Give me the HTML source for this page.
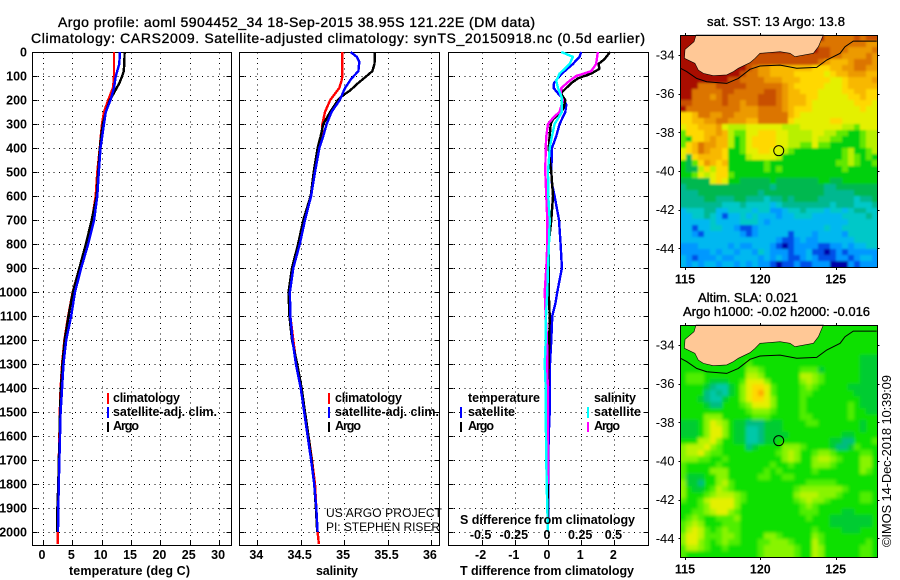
<!DOCTYPE html>
<html>
<head>
<meta charset="utf-8">
<title>Argo profile</title>
<style>
html,body{margin:0;padding:0;background:#fff;width:900px;height:580px;overflow:hidden}
svg{display:block}
text{font-family:"Liberation Sans",sans-serif;fill:#000}
.b{font-size:12.5px;font-weight:bold}
.t{font-size:14px;stroke:#000;stroke-width:.35px}
.n{font-size:13px;font-weight:normal}
.c{font-size:12px;font-weight:normal}
</style>
</head>
<body>
<svg id="chart" xmlns="http://www.w3.org/2000/svg" width="900" height="580" viewBox="0 0 900 580">
  <defs>
    <filter id="blur-sst" filterUnits="userSpaceOnUse" x="650" y="10" width="250" height="280"><feGaussianBlur stdDeviation="1"/></filter>
    <filter id="blur-sla" filterUnits="userSpaceOnUse" x="650" y="300" width="250" height="280"><feGaussianBlur stdDeviation="1.6"/></filter>
    <clipPath id="clip-sst"><rect x="680.5" y="35" width="197" height="232"/></clipPath>
    <clipPath id="clip-sla"><rect x="680.5" y="325" width="197" height="232"/></clipPath>
  </defs>
  <text class="t" x="58" y="27" textLength="477">Argo profile: aoml 5904452_34 18-Sep-2015 38.95S 121.22E (DM data)</text>
  <text class="t" x="31" y="43" textLength="614">Climatology: CARS2009. Satellite-adjusted climatology: synTS_20150918.nc (0.5d earlier)</text>

  <g id="temp-panel"></g>
  <g id="sal-panel"></g>
  <g id="diff-panel"></g>
  <g id="sst-map"></g>
  <g id="sla-map"></g>

  <text class="b" x="69" y="575" textLength="121">temperature (deg C)</text>
  <text class="b" x="316" y="575" textLength="42">salinity</text>
  <text class="b" x="460" y="575" textLength="174">T difference from climatology</text>
  <text class="b" x="460" y="524" textLength="175">S difference from climatology</text>

  <g>
    <rect x="107" y="393" width="2" height="11" fill="#ff0000"/>
    <rect x="107" y="407" width="2" height="11" fill="#0000ff"/>
    <rect x="107" y="422" width="2" height="10" fill="#000"/>
    <text class="b" x="113" y="402" textLength="67">climatology</text>
    <text class="b" x="113" y="416" textLength="104">satellite-adj. clim.</text>
    <text class="b" x="113" y="430" textLength="26">Argo</text>
  </g>
  <g>
    <rect x="328" y="393" width="2" height="11" fill="#ff0000"/>
    <rect x="328" y="407" width="2" height="11" fill="#0000ff"/>
    <rect x="328" y="422" width="2" height="10" fill="#000"/>
    <text class="b" x="335" y="402" textLength="67">climatology</text>
    <text class="b" x="335" y="416" textLength="104">satellite-adj. clim.</text>
    <text class="b" x="335" y="430" textLength="26">Argo</text>
  </g>
  <g>
    <text class="b" x="468" y="402" textLength="72">temperature</text>
    <text class="b" x="468" y="416" textLength="47">satellite</text>
    <text class="b" x="468" y="430" textLength="26">Argo</text>
    <rect x="460" y="407" width="2" height="11" fill="#0000ff"/>
    <rect x="460" y="422" width="2" height="10" fill="#000"/>
    <text class="b" x="594" y="402" textLength="42">salinity</text>
    <text class="b" x="594" y="416" textLength="47">satellite</text>
    <text class="b" x="594" y="430" textLength="26">Argo</text>
    <rect x="587" y="407" width="2" height="11" fill="#00ffff"/>
    <rect x="587" y="422" width="2" height="10" fill="#ff00ff"/>
  </g>

  <text class="c" x="326" y="517" textLength="116">US ARGO PROJECT</text>
  <text class="c" x="326" y="531" textLength="114">PI: STEPHEN RISER</text>

  <text class="t" style="font-size:13px" x="707" y="26" textLength="138">sat. SST: 13 Argo: 13.8</text>
  <text class="t" style="font-size:13px" x="698" y="302" textLength="100">Altim. SLA: 0.021</text>
  <text class="t" style="font-size:13px" x="683" y="316" textLength="187">Argo h1000: -0.02 h2000: -0.016</text>
  <text class="n" transform="translate(891,547) rotate(-90)" x="0" y="0" textLength="172">©IMOS 14-Dec-2018 10:39:09</text>
</svg>

<script>
// ---- profile chart data ----
const depthTicks = [0,100,200,300,400,500,600,700,800,900,1000,1100,1200,1300,1400,1500,1600,1700,1800,1900,2000];
const tempTicks = [0,5,10,15,20,25,30];
const salTicks = [34,34.5,35,35.5,36];
const salTickLabels = ['34','34.5','35','35.5','36'];
const diffTicks = [-2,-1,0,1,2];
const sDiffTicks = [-0.5,-0.25,0,0.25,0.5];
const sDiffTickLabels = ['-0.5','-0.25','0','0.25','0.5'];

const climDepth = [0,100,120,150,200,250,300,350,400,500,600,700,800,900,1000,1100,1200,1300,1400,1500,1600,1700,1800,1900,2000,2050];
const climTemp = [12.1,12.1,12.05,11.9,11.1,10.4,10.05,9.85,9.67,9.25,8.97,8.35,7.3,6.2,5.06,4.3,3.65,3.25,3.0,2.87,2.8,2.7,2.6,2.5,2.5,2.5];
const climSal = [34.98,34.98,34.97,34.945,34.84,34.78,34.75,34.745,34.70,34.665,34.62,34.53,34.49,34.415,34.37,34.38,34.415,34.45,34.51,34.55,34.59,34.63,34.665,34.68,34.695,34.71];

const argoTempDepth = [0,50,80,100,130,170,200,250,300,350,400,500,600,700,800,900,1000,1100,1200,1300,1400,1500,1600,1700,1800,1900,2000];
const argoTemp = [13.9,13.85,13.75,13.5,13.0,12.1,11.4,10.7,10.2,9.9,9.7,9.4,9.15,8.3,7.3,6.2,5.1,4.35,3.7,3.3,3.05,2.9,2.85,2.7,2.6,2.45,2.45];
const satTempDepth = [0,50,100,150,200,250,300,400,500,600,700,800,900,1000,1100,1200,1300,1400,1500,1600,1700,1800,1900,2000];
const satTemp = [13.1,13.0,12.4,12.1,11.5,10.7,10.4,9.8,9.5,9.25,8.7,7.7,6.5,5.45,4.8,3.95,3.5,3.25,3.0,2.9,2.8,2.7,2.6,2.55];

const argoSalDepth = [0,50,80,100,130,160,180,200,250,300,350,400,500,600,700,800,900,1000,1100,1200,1300,1400,1500,1600,1700,1800,1900,2000];
const argoSal = [35.355,35.35,35.325,35.26,35.16,35.07,34.99,34.93,34.84,34.76,34.73,34.695,34.65,34.615,34.53,34.47,34.40,34.36,34.37,34.40,34.46,34.51,34.55,34.59,34.625,34.655,34.675,34.69];
const satSalDepth = [0,20,40,80,110,150,200,250,300,350,400,500,600,700,800,900,1000,1100,1200,1300,1400,1500,1600,1700,1800,1900,2000];
const satSal = [35.075,35.145,35.175,35.165,35.085,35.01,34.95,34.855,34.80,34.76,34.715,34.665,34.62,34.55,34.49,34.415,34.375,34.38,34.405,34.445,34.50,34.54,34.58,34.62,34.655,34.68,34.695];

const tSatDepth = [0,20,50,80,100,130,150,180,200,220,250,300,350,400,500,550,600,700,800,900,1000,1050,1100,1200,1300,1400,1500,1600,1700,2000];
const tSatDiff = [1.0,0.95,0.75,0.5,0.35,0.18,0.17,0.35,0.48,0.55,0.52,0.35,0.25,0.12,0.1,0.12,0.2,0.33,0.38,0.42,0.28,0.22,0.13,0.1,0.06,0.05,0.05,0.02,0.01,0];
const tArgoDepth = [0,30,50,70,90,110,130,150,170,180,200,230,250,280,300,350,400,450,500,600,700,800,900,1000,1100,1200,1300,1400,2000];
const tArgoDiff = [1.87,1.7,1.52,1.55,1.3,0.9,0.7,0.55,0.4,0.42,0.52,0.48,0.4,0.15,0.08,0.05,0.02,0.05,0.1,0.15,0.1,0.02,0.02,0.02,0.05,0.04,0.02,0,0];
const sArgoDepth = [0,50,80,100,120,150,180,200,250,270,300,350,400,500,600,700,800,900,1000,1100,1200,1300,1400,1800];
const sArgoDiff = [1.5,1.45,1.3,0.85,0.65,0.4,0.38,0.45,0.35,0.18,0,-0.05,-0.07,-0.08,-0.05,-0.02,-0.02,-0.05,-0.1,-0.07,-0.03,-0.02,-0.01,0];
const sSatDepth = [0,20,50,90,120,150,190,220,250,300,350,400,500,600,700,800,900,1000,1100,1200,1300,1400,1500,1600,1700,1800,1900,2000];
const sSatDiff = [0.4,0.75,0.65,0.35,0.25,0.3,0.42,0.42,0.42,0.2,0.12,0.05,0,0.01,0.05,0.03,0,-0.02,-0.06,-0.07,-0.1,-0.07,-0.07,-0.06,-0.05,-0.04,-0.02,0];

// ---- map data ----
const lonTicks = [115,120,125];
const latTicks = [-34,-36,-38,-40,-42,-44];
const coastLon = [115.73,115.60,115,114.96,115.66,115.88,116.22,116.88,117.77,118.21,118.54,119.31,119.65,119.98,121.31,121.97,122.30,123.52,123.85,124.18];
const coastLat = [-32.97,-33.31,-33.71,-34.17,-34.43,-34.78,-34.95,-35.07,-35.03,-34.86,-34.69,-34.40,-34.17,-33.91,-33.83,-33.91,-34.09,-33.91,-33.57,-32.97];
const shelfLon = [114.71,115.11,115.77,116.44,117.77,118.54,119.31,119.98,121.31,122.41,123.74,124.40,125.29,125.62,126.17,127.72];
const shelfLat = [-34.69,-34.86,-35.21,-35.38,-35.47,-35.21,-34.74,-34.57,-34.52,-34.69,-34.64,-34.26,-33.91,-33.57,-33.28,-33.28];
const profileLon = 121.22;
const profileLat = -38.95;

const sstLevels = {n:'#0000a8',b:'#0050e8',s:'#0098ff',c:'#00b8f0',t:'#00c8c8',u:'#00b890',g:'#00b850',h:'#00d010',i:'#60e800',j:'#b8f000',y:'#e4f000',z:'#ffd800',o:'#f8b800',p:'#ec9a00',q:'#dc7400',r:'#c85000',d:'#a80800'};
const sstRows = [
"ddddddddddd ddddddddddd ddqqqqqrqrr",
"ddddddddddd ddddddddddd dqqqqqqqqpp",
"ddddddddddd ddddddddddd drrqqqppppq",
"ddddddddddd drrrrrrrrrr rrrqqppppqp",
"ddddddddddd rrrrrrrrrrr rqpooopqqqp",
"ddddddddddd rqppooooooo zzzooppqqpp",
"ddddddddddr qqppoooozzz zzyzoopppoo",
"ddddddddrrq qqqpppooozz zzzyyzoooop",
"dddqqqrrrrr qqqqqqpozzz zzyyyzooooo",
"ddqqqqqrrqq qqqrrqpoozz zyyyyzzoozz",
"ddqqqpqrqqq qqrrrqpoooz zyyyyyzzozz",
"rrqqqqqrqqp qqrrrqpoooz yyyyyyyzzzy",
"dqqqqqqqqqp ppqqqqpozzz yyyyyyyyzyy",
"zzoqqppqqpp ppqqqqqozyy yyyyyyyyyyy",
"zzooppqqppp ooqqqqqzyyy yyyzzyyyyyy",
"yzzooopyjjj yyyyyyjjjyy yyyyyjjiyyy",
"izzzoopojii yyzzzyyjjjj yyjjiihhijj",
"ihzzopoojhi yzzzzyyjjjj yjjiihhhijj",
"izoqppoojhi yzzzzyyjjii yiihhhhhijj",
"yzoqpoozhhi yyzzyyjihhh hhhhhijhhij",
"ygzoooozhhh jyyyyjhhhhh hhhhhijihih",
"hgizpozohhh hhhihhhhhhh hhhhiijihhi",
"hggjzjzzhhh hhhihihhhhh hhhhhihhhhh",
"hhiyjyzzihh hhhhhhhhhhh hhhhhhhhhhh",
"gggggyzyhhg gggghgggggg ghhgghhhhhh",
"ugggggggggg ggggugggggg gguuggggggg",
"uuugggggggg ggugggggggg gguuuuugggg",
"uuuugguuugg uuutuuguggg guuuuuutuug",
"uuuuuuutttu ttttctuuuuu uuutuuutttu",
"ctttuuccttt tcttsscttut ttcttctuutt",
"ccttutcbcct ctcccsccttt cccccttttut",
"ccccctcccct ttcsccccccc ccccccttttt",
"ccbccttccsb bsccccccccc cctcctttttt",
"ccsbccccccs bscccccbccc sccccsttttt",
"ccccccccccc cccccsbbscs scccccctttt",
"ssscccccscs scccsbnbsss sbbsscscctt",
"ssssscsccsc cstcsssbssc bbnbsbsssss",
"csbssscsscc ccscscsbbsc sbbbssbsccs",
"cscsccsccsc scssbnbbsbb sssnnnsbsss"
];
const slaLevels = {t:'#00c8a8',u:'#00bc80',g:'#00cc30',h:'#10e000',i:'#50ee00',j:'#88f400',k:'#b8f400',y:'#e4f000',z:'#ffd800',o:'#ffa800'};
const slaRows = [
"hhhhhhhhhhh hhhhhhhhhhh hhhhhhhhhhh",
"hhhhhhhhhhh hhhhhhhhhhh hhhhhhhhhhh",
"hhhhhhhhhhh hhhhhhhhhhh hhhhhhhhhhh",
"hhhhhhhhhhh hhhhhhhhhhh hhhhhhhhhhh",
"hhhhhhhhhhh hhhhhhhhhhh hhhhhhhhhhh",
"hhhhhhhhhhh hhhhhhhhhhh hhhhhhhhggg",
"hhhhhhhhhhh ihhhhhhhhhh hhhhhhhhggg",
"hhhhhhhhhhh jjihhhhhhii ighhhhhhggg",
"hiiihhhhhhh kkjhhhhhhkk jihhhhhhggg",
"hiiihggghhi yyyjhhhhhjk jihhhhhhggg",
"hhhhguttghj yzzyihhhhij ihhhhhggggg",
"hhhhututghj yzoyihhhhii hhhhhhhgggg",
"hhhguttghhj yzzyjhhhhih hhhhhhhhggg",
"hhhhguuhhhi jyyyjhhhhih hhhhhhihggg",
"hhhhhhhhhhh ijjjihhhhih hhhhhhihhgg",
"hhhhjjjhhhh hiiihhhhhii hhhhhhihhhh",
"ggghjykjhgg uuuggghhhhi ihhhhhhhghh",
"ggghjyyjhgg ttuggghhhhh hhhhhhhhghh",
"ggghjyyjhgg ttugggghhhh hhhhhgghhhh",
"hhhkkyjhhgg ttugghhhhhh hhhgguuhhhi",
"jkkkyjihhhh ughhhhjjjih hhhguugihhh",
"jkkyjiihhhh hhhhhijkjhh ijjihhhhiih",
"jjjiihhihhh hhhhhhjkjhh jkkjihhhjjh",
"ihhhhhihhhh hhhhihhihhh jjjihhhhjjh",
"ihhhhjjjhhh hhhihihhhhh ihhhhhhhjih",
"iggghhjjhhh hhiihhiihhh hhhhhhhhhhh",
"jgguhhjkihh hhhhhhhhhhi iiiihhhhhhh",
"jhgghikjihh hhhhhhhhijj jjjjjihhhhh",
"jhhhijkkkji hhhhhhhhjkk kjjjihhhiih",
"ihhikyyyyji hhhhhhhhijk jjihhhhhiih",
"hhhijyyyyjh hhhhhhhhhij ihhhhhhhhhh",
"hhiijkyyjih hhhhhhhhhii ihhhhgghhhh",
"hijihhiiijh hhhhhhhhhhi hhhgggggggh",
"ijkjhhhiiih hhhhhhhhhhh hhhgggggggh",
"ikykihijiih hhhhhhhhhhh ihhhhggghhh",
"jyykiiijjih hhhjjihhhhh jihhhhhhhhh",
"jyyjihijiih hhiijjjihhh kihhhhhhhih",
"ikkjihhihhh hhijjjjjihh kjhhhhhhiih",
"ihhhhhhhhhh hhijjjjjihh kjhhhhhhiih"
];

// ---- helpers ----
const NS = 'http://www.w3.org/2000/svg';
function make(parent, tag, attrs, txt){
  const el = document.createElementNS(NS, tag);
  for (const k in attrs) el.setAttribute(k, attrs[k]);
  if (txt !== undefined) el.textContent = txt;
  parent.appendChild(el);
  return el;
}
const TOP = 52.5, BOTTOM = 545.5;
const yDepth = d => 52 + 0.24 * d;
const xTemp = t => 43 + 5.87 * t;
const xSal = s => 257.3 + 86.8 * (s - 34);
const xDiff = v => 548 + 33.2 * v;
const crisp = v => Math.round(v) + 0.5;

function drawFrame(g, left, right, vals, xf, labels){
  depthTicks.forEach(d => {
    if (d === 0) return;
    const y = crisp(yDepth(d));
    const grid = make(g, 'line', {x1:left, x2:right, y1:y, y2:y, stroke:'#000', 'stroke-width':1, 'stroke-dasharray':'1 4.3', 'shape-rendering':'crispEdges'});
    
    
    const tl = make(g, 'line', {x1:left, x2:left+5, y1:y, y2:y, stroke:'#000', 'shape-rendering':'crispEdges'});
    
    
    const tr = make(g, 'line', {x1:right-5, x2:right, y1:y, y2:y, stroke:'#000', 'shape-rendering':'crispEdges'});
    
    
  });
  vals.forEach((v, i) => {
    const x = crisp(xf(v));
    const grid = make(g, 'line', {x1:x, x2:x, y1:TOP, y2:BOTTOM, stroke:'#000', 'stroke-width':1, 'stroke-dasharray':'1 4.3', 'shape-rendering':'crispEdges'});
    
    
    const tb = make(g, 'line', {x1:x, x2:x, y1:BOTTOM-5, y2:BOTTOM, stroke:'#000', 'shape-rendering':'crispEdges'});
    
    
    const lab = make(g, 'text', {x:xf(v)-1, y:559, class:'b', 'text-anchor':'middle'}, labels ? labels[i] : String(v));
    
    
  });
  const fr = make(g, 'rect', {x:left, y:TOP, width:right-left, height:BOTTOM-TOP, fill:'none', stroke:'#000', 'stroke-width':1, 'shape-rendering':'crispEdges'});
  
  
}
function drawLine(g, depths, vals, xf, color, name){
  const pts = depths.map((d, i) => xf(vals[i]).toFixed(1) + ',' + yDepth(d).toFixed(1)).join(' ');
  const pl = make(g, 'polyline', {points:pts, fill:'none', stroke:color, 'stroke-width':2.4, 'stroke-linejoin':'round', 'shape-rendering':'crispEdges'});
  
  
}

// ---- profile panels ----
const tp = document.getElementById('temp-panel');
const sp = document.getElementById('sal-panel');
const dp = document.getElementById('diff-panel');
drawFrame(tp, 32.5, 231.5, tempTicks, xTemp);
drawFrame(sp, 239.5, 439.5, salTicks, xSal, salTickLabels);
drawFrame(dp, 448.5, 648.5, diffTicks, xDiff);

depthTicks.forEach(d => {
  const lab = make(tp, 'text', {x:27, y:yDepth(d)+4.5, class:'b', 'text-anchor':'end'}, String(d));
  
  
});

drawLine(tp, climDepth, climTemp, xTemp, '#ff0000', 'climatology-temperature-line');
drawLine(tp, argoTempDepth, argoTemp, xTemp, '#000000', 'argo-temperature-line');
drawLine(tp, satTempDepth, satTemp, xTemp, '#0000ff', 'satellite-temperature-line');

drawLine(sp, climDepth, climSal, xSal, '#ff0000', 'climatology-salinity-line');
drawLine(sp, argoSalDepth, argoSal, xSal, '#000000', 'argo-salinity-line');
drawLine(sp, satSalDepth, satSal, xSal, '#0000ff', 'satellite-salinity-line');

drawLine(dp, tSatDepth, tSatDiff, xDiff, '#0000ff', 't-satellite-difference-line');
drawLine(dp, tArgoDepth, tArgoDiff, xDiff, '#000000', 't-argo-difference-line');
drawLine(dp, sArgoDepth, sArgoDiff, xDiff, '#ff00ff', 's-argo-difference-line');
drawLine(dp, sSatDepth, sSatDiff, xDiff, '#00ffff', 's-satellite-difference-line');

sDiffTicks.forEach((v, i) => {
  const lab = make(dp, 'text', {x:xDiff(v*4)-1, y:539, class:'b', 'text-anchor':'middle'}, sDiffTickLabels[i]);
  
  
});

// ---- maps ----
const MAP_L = 680.5, MAP_R = 877.5, MAP_W = 197, MAP_H = 232;
const xLon = lon => 685 + 15.07 * (lon - 115);
function drawMap(g, top, rows, levels, cellName, clipId, filterId){
  const yLat = lat => top + 20 + 19.33 * (-34 - lat);
  const grid = rows.map(r => r.replace(/ /g, ''));
  const nr = grid.length, nc = grid[0].length;
  const cw = MAP_W / nc, ch = MAP_H / nr;
  const clipGroup = make(g, 'g', {'clip-path':'url(#' + clipId + ')'});
  
  
  const cells = make(clipGroup, 'g', {filter:'url(#' + filterId + ')'});
  
  
  grid.forEach((row, r) => {
    for (let c = 0; c < nc; c++) {
      // outermost cells run past the clip so the smoothing does not fade at the frame
      const x0 = Math.round(MAP_L + c * cw) - (c === 0 ? 10 : 0);
      const x1 = Math.round(MAP_L + (c + 1) * cw) + (c === nc - 1 ? 10 : 0);
      const y0 = Math.round(top + r * ch) - (r === 0 ? 10 : 0);
      const y1 = Math.round(top + (r + 1) * ch) + (r === nr - 1 ? 10 : 0);
      const cell = make(cells, 'rect', {x:x0, y:y0, width:x1-x0, height:y1-y0, fill:levels[row[c]], 'shape-rendering':'crispEdges'});
      
      
    }
  });
  const land = make(g, 'polygon', {points:coastLon.map((v, i) => xLon(v).toFixed(1) + ',' + yLat(coastLat[i]).toFixed(1)).join(' '), fill:'#ffc896', stroke:'#000', 'stroke-width':0.6});
  
  
  const shelf = make(g, 'polyline', {points:shelfLon.map((v, i) => xLon(v).toFixed(1) + ',' + yLat(shelfLat[i]).toFixed(1)).join(' '), fill:'none', stroke:'#000', 'stroke-width':1});
  
  
  const marker = make(g, 'circle', {cx:xLon(profileLon), cy:yLat(profileLat), r:5, fill:'none', stroke:'#000', 'stroke-width':1});
  
  
  const fr = make(g, 'rect', {x:MAP_L, y:top+0.5, width:MAP_W, height:MAP_H, fill:'none', stroke:'#000', 'shape-rendering':'crispEdges'});
  
  
  lonTicks.forEach(v => {
    const x = crisp(xLon(v));
    const t1 = make(g, 'line', {x1:x, x2:x, y1:top-2, y2:top, stroke:'#000', 'shape-rendering':'crispEdges'});
    
    
    const t2 = make(g, 'line', {x1:x, x2:x, y1:top+MAP_H, y2:top+MAP_H+3, stroke:'#000', 'shape-rendering':'crispEdges'});
    
    
    const lab = make(g, 'text', {x:xLon(v), y:top+MAP_H+16.5, class:'b', 'text-anchor':'middle'}, String(v));
    
    
  });
  latTicks.forEach(v => {
    const y = crisp(yLat(v));
    const t1 = make(g, 'line', {x1:MAP_L-2, x2:MAP_L, y1:y, y2:y, stroke:'#000', 'shape-rendering':'crispEdges'});
    
    
    const t2 = make(g, 'line', {x1:MAP_R, x2:MAP_R+2, y1:y, y2:y, stroke:'#000', 'shape-rendering':'crispEdges'});
    
    
    const lab = make(g, 'text', {x:674.5, y:yLat(v)+4.5, class:'n', 'text-anchor':'end'}, String(v));
    
    
  });
}
drawMap(document.getElementById('sst-map'), 35, sstRows, sstLevels, 'sst-cell', 'clip-sst', 'blur-sst');
drawMap(document.getElementById('sla-map'), 325, slaRows, slaLevels, 'sla-cell', 'clip-sla', 'blur-sla');
</script>
</body>
</html>
